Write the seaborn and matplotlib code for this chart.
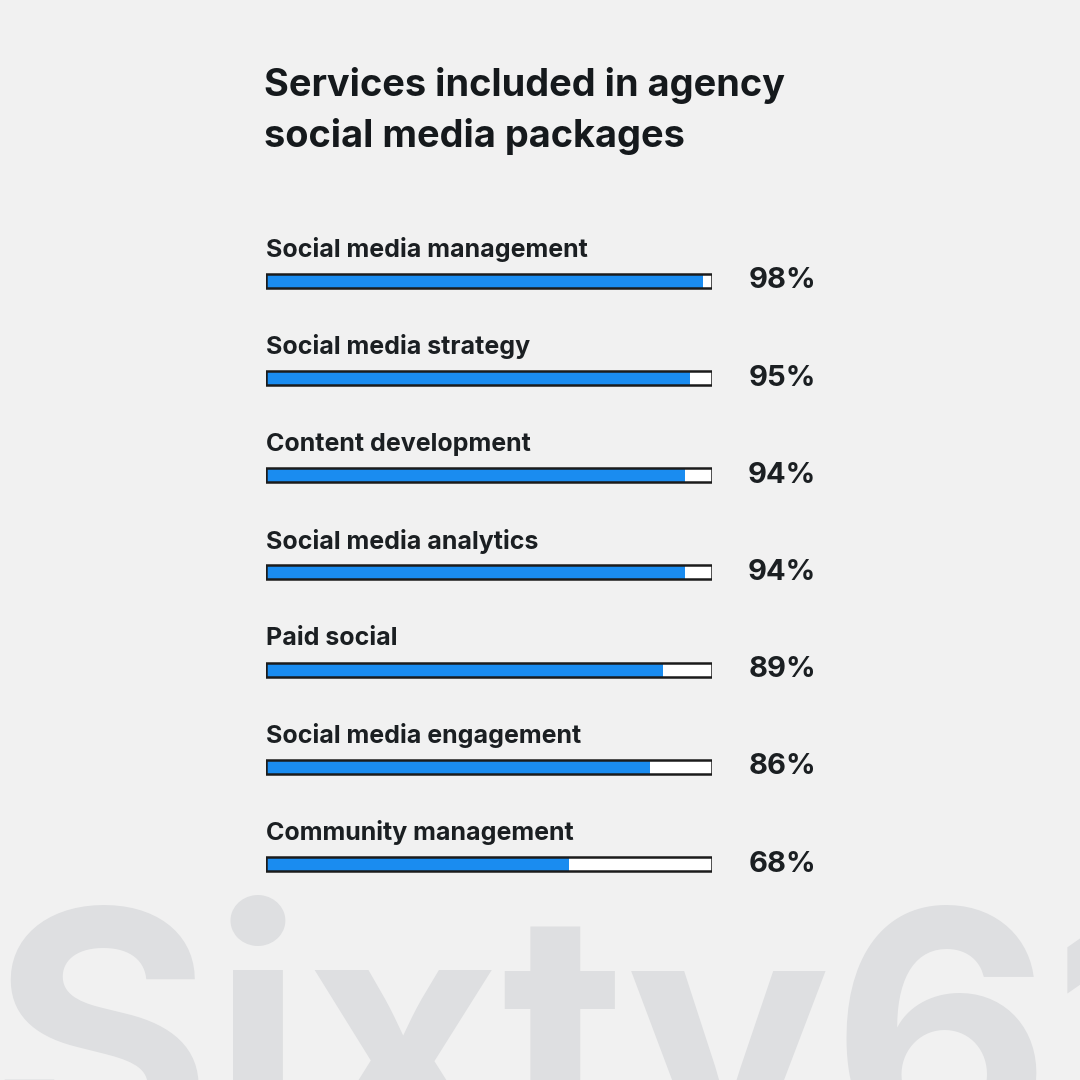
import pandas as pd
import matplotlib.pyplot as plt
import seaborn as sns

# data
services = [
    'Social media management',
    'Social media strategy',
    'Content development',
    'Social media analytics',
    'Paid social',
    'Social media engagement',
    'Community management',
]
shares = [98, 95, 94, 94, 89, 86, 68]

df = pd.DataFrame({'Service': services, 'Share': shares, 'Track': [100] * len(services)})

plt.rcParams['font.family'] = 'Inter'

fig = plt.figure(figsize=(10.8, 10.8), dpi=100)
fig.patch.set_facecolor('#f1f1f1')

# watermark
fig.text(-0.01, -0.07, 'Sixty61', ha='left', va='baseline', fontsize=245,
         fontweight='bold', color='#dedfe1', zorder=0)

ax = fig.add_axes([266 / 1080, 0.155, 446 / 1080, 0.63])
ax.set_facecolor('none')

sns.barplot(data=df, x='Track', y='Service', color='white', width=0.145,
            linewidth=0, saturation=1, ax=ax, zorder=2)
sns.barplot(data=df, x='Share', y='Service', color='#1a8cf0', width=0.145,
            linewidth=0, saturation=1, ax=ax, zorder=3)
# outline of each track
for p in ax.patches[:len(services)]:
    r = plt.Rectangle(p.get_xy(), p.get_width(), p.get_height(), fill=False,
                      edgecolor='#1b1b1b', linewidth=1.8, zorder=4)
    ax.add_patch(r)

for i, (name, val) in enumerate(zip(services, shares)):
    ax.text(0, i - 0.32, name, ha='left', va='center', fontsize=18,
            fontweight='bold', color='#1b1f22')
    ax.text(123.3, i, f'{val}%', ha='right', va='center', fontsize=21,
            fontweight='bold', color='#1b1f22')

ax.set_xlim(0, 100)
ax.set_ylim(len(services) - 0.5, -0.5)
ax.set_xlabel('')
ax.set_ylabel('')
ax.set_xticks([])
ax.set_yticks([])
for s in ax.spines.values():
    s.set_visible(False)

fig.text(264 / 1080, 1 - 111 / 1080, 'Services included in agency\nsocial media packages',
         ha='left', va='center', fontsize=27.3, fontweight='bold', color='#15191c',
         linespacing=1.45)

plt.savefig('out.png', dpi=100, facecolor=fig.get_facecolor())
plt.close()
